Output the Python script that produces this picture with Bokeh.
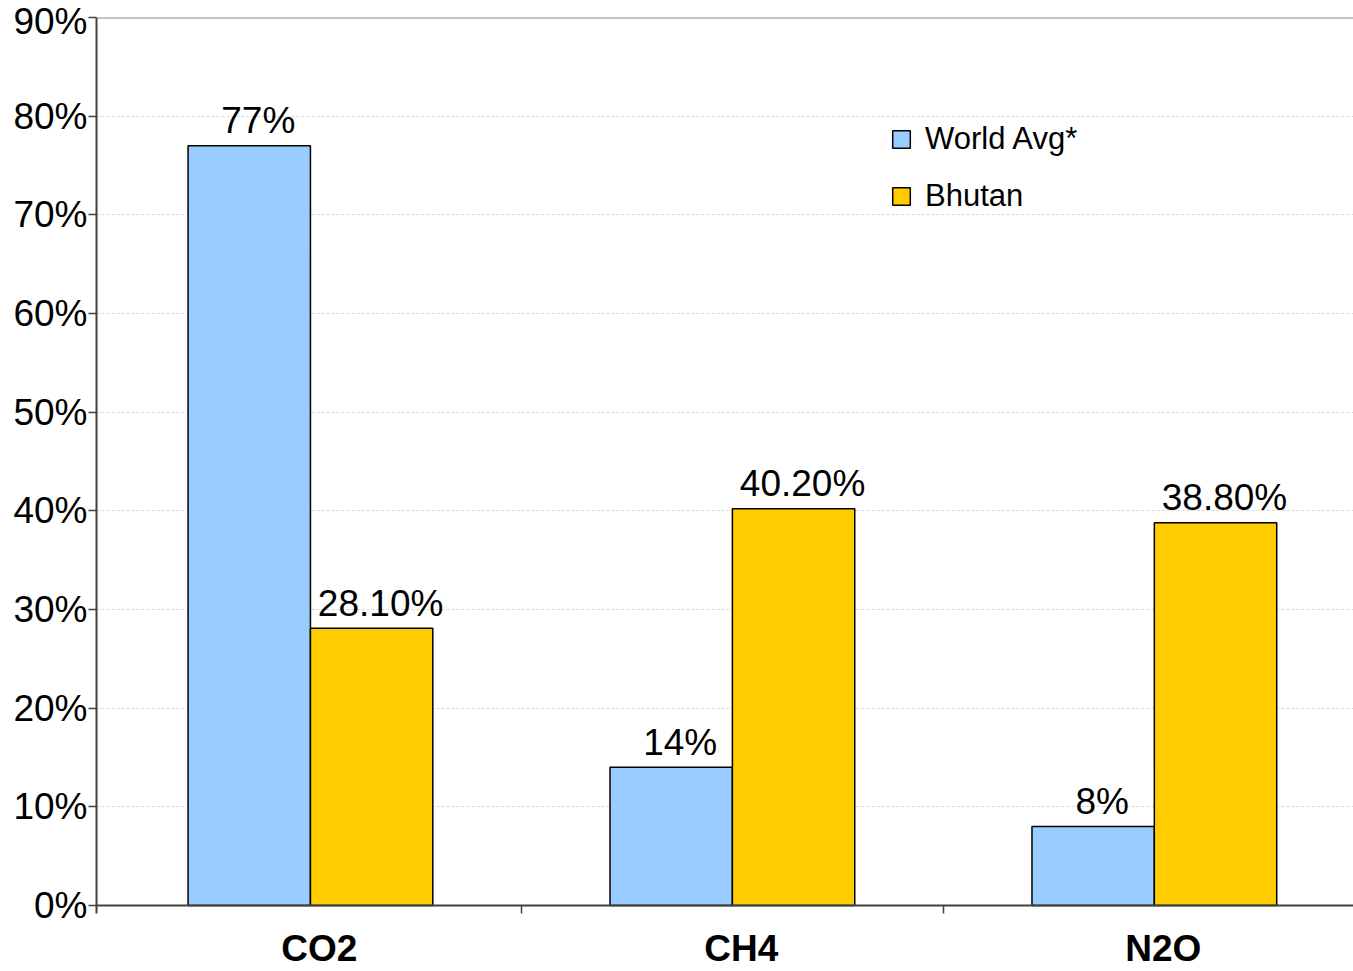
from bokeh.plotting import figure
from bokeh.models import (ColumnDataSource, FixedTicker, PrintfTickFormatter, Span,
                          Legend, LegendItem, Range1d)
from bokeh.core.properties import value
from bokeh.embed import file_html
from bokeh.resources import INLINE

categories = ["CO2", "CH4", "N2O"]
world_avg = [77, 14, 8]
bhutan = [28.1, 40.2, 38.8]
world_labels = ["77%", "14%", "8%"]
bhutan_labels = ["28.10%", "40.20%", "38.80%"]
y_ticks = [0, 10, 20, 30, 40, 50, 60, 70, 80, 90]

FONT = "Liberation Sans"
BAR_W = 0.29
centers = [i + 0.5 for i in range(len(categories))]
LABEL_SHIFT = 0.021   # category names sit slightly right of the group centre
Y_PAD = 8 / 9.867     # frame extends 8px below zero, like the reference's axis overhang

src_w = ColumnDataSource(dict(x=[c - BAR_W / 2 for c in centers], top=world_avg, lab=world_labels))
src_b = ColumnDataSource(dict(x=[c + BAR_W / 2 for c in centers], top=bhutan, lab=bhutan_labels))

p = figure(width=1353, height=971, output_backend="svg", toolbar_location=None,
           x_range=Range1d(-0.007, 2.972), y_range=Range1d(-Y_PAD, 90),
           min_border_left=96, min_border_right=0, min_border_top=17, min_border_bottom=58)
p.outline_line_color = None
p.background_fill_color = "white"

p.xgrid.visible = False
p.ygrid.ticker = FixedTicker(ticks=y_ticks[1:])
p.ygrid.grid_line_color = "#d9d9d9"
p.ygrid.grid_line_dash = "3 2"
p.ygrid.grid_line_width = 1

rw = p.vbar(x="x", top="top", width=BAR_W, bottom=0, source=src_w,
            fill_color="#99CCFF", line_color="black", line_width=1.5)
rb = p.vbar(x="x", top="top", width=BAR_W, bottom=0, source=src_b,
            fill_color="#FFCC00", line_color="black", line_width=1.5)

for src in (src_w, src_b):
    p.text(x="x", y="top", text="lab", source=src, text_align="center",
           text_baseline="alphabetic", x_offset=9, y_offset=-25,
           text_font=value(FONT), text_font_size="37px", text_color="black")

p.add_layout(Span(location=90, dimension="width", line_color="#888888", line_width=2))
# baseline (x axis line at zero)
p.add_layout(Span(location=0, dimension="width", line_color="#404040", line_width=2))

# y axis
p.yaxis.ticker = FixedTicker(ticks=y_ticks)
p.yaxis.formatter = PrintfTickFormatter(format="%d%%")
p.yaxis.major_label_text_font = FONT
p.yaxis.major_label_text_font_size = "37px"
p.yaxis.major_label_text_color = "black"
p.yaxis.major_tick_out = 8
p.yaxis.major_tick_in = 0
p.yaxis.minor_tick_line_color = None
p.yaxis.major_label_standoff = 1
p.yaxis.axis_line_color = "#404040"
p.yaxis.axis_line_width = 2
p.yaxis.major_tick_line_color = "#404040"
p.yaxis.major_tick_line_width = 1.5

# x axis: separators between groups, category names centred below
label_pos = [c + LABEL_SHIFT for c in centers]
p.xaxis.ticker = FixedTicker(ticks=label_pos, minor_ticks=[1, 2])
p.xaxis.major_label_overrides = {pos: name for pos, name in zip(label_pos, categories)}
p.xaxis.major_tick_out = 0
p.xaxis.major_tick_in = 0
p.xaxis.minor_tick_out = 0
p.xaxis.minor_tick_in = 8
p.xaxis.minor_tick_line_color = "#404040"
p.xaxis.minor_tick_line_width = 1.5
p.xaxis.major_label_text_font = FONT
p.xaxis.major_label_text_font_size = "37px"
p.xaxis.major_label_text_font_style = "bold"
p.xaxis.major_label_text_color = "black"
p.xaxis.major_label_standoff = 14
p.xaxis.axis_line_color = None

legend = Legend(items=[LegendItem(label="World Avg*", renderers=[rw]),
                       LegendItem(label="Bhutan", renderers=[rb])],
                location=(794, 699), orientation="vertical",
                glyph_width=22, glyph_height=22, label_standoff=13,
                label_text_font=FONT, label_text_font_size="31px", label_text_color="black",
                label_width=190, spacing=21, padding=14, margin=0,
                background_fill_color="white", background_fill_alpha=1,
                border_line_color=None)
p.add_layout(legend)

open("out.html", "w").write(file_html(p, INLINE))
